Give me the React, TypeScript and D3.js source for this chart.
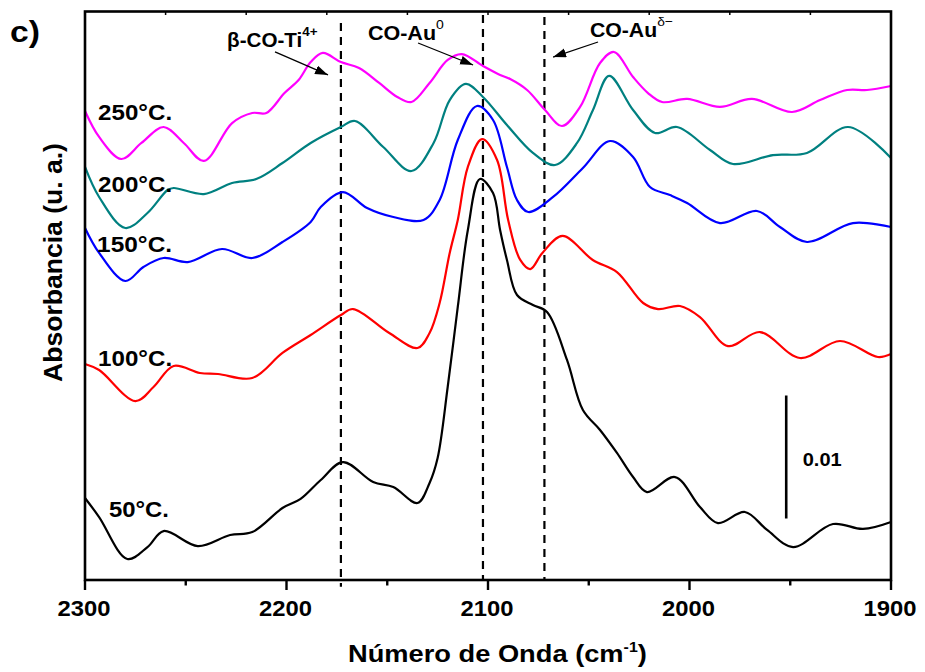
import React, { useEffect, useRef } from "react";
import * as d3 from "d3";

const W = 925;
const H = 672;

// Absorbance values in 10^-3 a.u. (curves offset as in the figure), wavenumbers in cm^-1
// 50 °C
const wn50 = [2300, 2293, 2279, 2269, 2261, 2244, 2228, 2217, 2202, 2193, 2183, 2172, 2157, 2147, 2135, 2129, 2125, 2120, 2115, 2110, 2104, 2097.5, 2094, 2090.6, 2085.6, 2077.7, 2070.7, 2060.8, 2052.9, 2044.4, 2036, 2028, 2021.1, 2007.2, 1994.8, 1985.9, 1972.5, 1961.5, 1948.6, 1928.8, 1913.9, 1900];
const abs50 = [6.67, 5.12, 1.71, 2.68, 3.98, 2.76, 3.66, 3.9, 5.85, 6.59, 8.13, 9.59, 7.97, 7.56, 6.26, 7.89, 9.92, 15.69, 22.2, 28.46, 32.6, 31.46, 28.46, 26.02, 23.17, 22.36, 21.79, 17.89, 13.82, 12.2, 10.33, 8.37, 7.15, 8.37, 5.93, 4.63, 5.53, 4.07, 2.68, 4.55, 4.15, 4.72];
// 100 °C
const wn100 = [2300, 2293, 2275, 2266, 2256, 2243, 2234, 2217, 2202, 2188, 2173, 2167, 2149, 2135, 2129, 2124, 2119, 2115, 2110, 2103, 2095.5, 2090, 2084, 2079, 2073, 2063, 2048, 2036, 2023, 2015.6, 2004.7, 1994.8, 1980.9, 1965, 1945.2, 1925.3, 1906.5, 1900];
const abs100 = [17.56, 17.07, 14.55, 15.69, 17.4, 16.83, 16.75, 16.42, 18.46, 19.92, 21.54, 22.03, 20.08, 18.86, 20.08, 22.52, 26.59, 29.27, 33.58, 35.85, 34.15, 29.27, 26.02, 25.28, 26.59, 27.97, 26.02, 25.04, 22.52, 22.03, 22.28, 21.38, 19.02, 20.16, 18.05, 19.43, 18.13, 18.37];
// 150 °C
const wn150 = [2300, 2293, 2280, 2271, 2261, 2249, 2232, 2217, 2202, 2188, 2183, 2172, 2160, 2147, 2132, 2124, 2115, 2105.5, 2097.5, 2090.6, 2085.6, 2080, 2067.7, 2052.9, 2039.5, 2028, 2019.6, 2009.7, 2001.2, 1984.9, 1966.5, 1955.1, 1941.7, 1918.9, 1900];
const abs150 = [28.62, 26.59, 24.31, 25.45, 26.18, 25.85, 26.91, 26.18, 27.48, 29.11, 30.33, 31.54, 30.24, 29.51, 29.27, 30.89, 35.77, 38.54, 37.4, 33.58, 30.89, 29.92, 31.14, 33.5, 35.69, 34.39, 31.95, 31.3, 30.65, 29.02, 30.0, 28.7, 27.48, 29.02, 28.7];
// 200 °C
const wn200 = [2300, 2293, 2280, 2269, 2259, 2256, 2241, 2227, 2215, 2202, 2188, 2173, 2166, 2152, 2138, 2127, 2119, 2111, 2102.5, 2090.6, 2077.7, 2066.7, 2055.8, 2047.9, 2039.9, 2028, 2017.1, 2006.2, 1989.8, 1978.4, 1958.6, 1941.7, 1921.3, 1900];
const abs200 = [33.58, 31.14, 28.62, 29.84, 31.71, 31.87, 31.38, 32.28, 32.6, 33.9, 35.53, 36.83, 37.32, 35.2, 33.25, 35.53, 39.02, 40.33, 39.27, 36.99, 34.72, 33.74, 35.53, 38.21, 40.98, 38.21, 36.34, 36.83, 34.96, 33.82, 34.55, 34.72, 36.83, 34.31];
// 250 °C
const wn250 = [2300, 2293, 2282, 2272, 2261, 2251, 2241, 2227, 2217, 2210, 2201, 2194, 2188, 2182, 2173, 2164, 2154, 2145, 2138, 2129, 2120, 2113, 2102.5, 2094, 2089, 2080.6, 2071.7, 2063.3, 2054.3, 2044.4, 2037.5, 2028, 2020.6, 2013.6, 2001.2, 1984.9, 1969, 1949.1, 1935.2, 1921.8, 1911.9, 1900];
const abs250 = [38.13, 36.02, 34.23, 35.53, 36.83, 35.53, 34.07, 37.15, 37.97, 37.97, 39.59, 40.65, 42.11, 42.85, 42.11, 41.63, 40.41, 39.27, 38.86, 40.41, 42.28, 42.76, 41.79, 41.06, 40.73, 39.84, 38.21, 36.91, 38.46, 42.03, 42.93, 40.89, 39.59, 38.86, 39.11, 38.46, 39.11, 38.05, 39.02, 39.84, 39.84, 40.16];

const seriesNames = ["50°C.", "100°C.", "150°C.", "200°C.", "250°C."];
const seriesColors = ["#000000", "#FF0000", "#0000FF", "#008080", "#FF00FF"];
const seriesWn = [wn50, wn100, wn150, wn200, wn250];
const seriesAbs = [abs50, abs100, abs150, abs200, abs250];
// label anchor positions (wavenumber, absorbance)
const labelWn = [2288.1, 2293.5, 2294, 2293.5, 2293.5];
const labelAbs = [5.12, 17.4, 26.67, 31.54, 37.4];
const labelWidth = [60, 74, 75, 74, 74];

const xMajorTicks = [2300, 2200, 2100, 2000, 1900];
const xMinorTicks = [2250, 2150, 2050, 1950];
const xTopTicks = d3.range(2300, 1899, -40);

// dashed reference lines
const markerWn = [2173, 2102.5, 2072];
const markerTop = [45.28, 45.93, 45.77];
const markerBottom = [-0.55, 0, 0];

// annotations: label text start, arrow start -> arrow tip
const annMain = ["β-CO-Ti", "CO-Au", "CO-Au"];
const annSup = ["4+", "0", "δ−"];
const annSupBold = [true, false, false];
const annWn = [2229.5, 2159.6, 2049.4];
const annAbs = [43.33, 43.9, 44.15];
const annWidth = [91, 76, 83];
const arrowFromWn = [2205.7, 2134.7, 2045.4];
const arrowFromAbs = [42.93, 43.66, 43.74];
const arrowToWn = [2179.4, 2107.4, 2067.7];
const arrowToAbs = [41.06, 41.87, 42.52];

// scale bar: 0.01 a.u. = 10 × 10^-3
const scaleBarWn = 1952;
const scaleBarFrom = 5.0;
const scaleBarTo = 15.0;
const scaleBarLabel = "0.01";

const FONT = "'Liberation Sans', Arial, Helvetica, sans-serif";

export default function App() {
  const ref = useRef<SVGSVGElement | null>(null);

  useEffect(() => {
    const svg = d3.select(ref.current);
    svg.selectAll("*").remove();

    const x = d3.scaleLinear().domain([2300, 1900]).range([85, 891]);
    const y = d3.scaleLinear().domain([0, 46.22]).range([580, 11.5]);

    const defs = svg.append("defs");
    defs
      .append("marker")
      .attr("id", "arrowHead")
      .attr("markerUnits", "userSpaceOnUse")
      .attr("markerWidth", 14)
      .attr("markerHeight", 10)
      .attr("refX", 13)
      .attr("refY", 4.5)
      .attr("orient", "auto")
      .append("path")
      .attr("d", "M0,0 L13,4.5 L0,9 Z")
      .attr("fill", "#000");

    const fit = (
      t: d3.Selection<SVGTextElement, unknown, null, undefined>,
      px: number,
      py: number,
      width: number,
      rotate = 0
    ) => {
      const node = t.node() as SVGTextElement;
      const w = node.getBBox().width;
      const s = w > 0 ? width / w : 1;
      t.attr(
        "transform",
        `translate(${px},${py})${rotate ? ` rotate(${rotate})` : ""} scale(${s},1)`
      );
    };

    const g = svg.append("g");

    // dashed lines
    markerWn.forEach((wv, i) => {
      g.append("line")
        .attr("x1", x(wv))
        .attr("x2", x(wv))
        .attr("y1", y(markerTop[i]))
        .attr("y2", y(markerBottom[i]))
        .attr("stroke", "#000")
        .attr("stroke-width", 2.2)
        .attr("stroke-dasharray", "8,6");
    });

    // spectra
    const line = d3
      .line<[number, number]>()
      .x((d) => x(d[0]))
      .y((d) => y(d[1]))
      .curve(d3.curveCatmullRom.alpha(0.5));

    seriesWn.forEach((wns, i) => {
      const pts: [number, number][] = wns.map((wv, j) => [wv, seriesAbs[i][j]]);
      g.append("path")
        .attr("d", line(pts) as string)
        .attr("fill", "none")
        .attr("stroke", seriesColors[i])
        .attr("stroke-width", 2.2)
        .attr("stroke-linejoin", "round");
    });

    // frame
    g.append("rect")
      .attr("x", x(2300))
      .attr("y", y.range()[1])
      .attr("width", x(1900) - x(2300))
      .attr("height", y.range()[0] - y.range()[1])
      .attr("fill", "none")
      .attr("stroke", "#000")
      .attr("stroke-width", 2.6);

    // bottom ticks
    xMajorTicks.forEach((t) => {
      g.append("line")
        .attr("x1", x(t))
        .attr("x2", x(t))
        .attr("y1", y(0))
        .attr("y2", y(0) + 10)
        .attr("stroke", "#000")
        .attr("stroke-width", 2.4);
      const tx = g
        .append("text")
        .attr("text-anchor", "middle")
        .attr("font-family", FONT)
        .attr("font-weight", "bold")
        .attr("font-size", 22)
        .text(String(t));
      fit(tx, x(t) - 1, 616, 53);
    });
    xMinorTicks.forEach((t) => {
      g.append("line")
        .attr("x1", x(t))
        .attr("x2", x(t))
        .attr("y1", y(0))
        .attr("y2", y(0) + 5.5)
        .attr("stroke", "#000")
        .attr("stroke-width", 2.4);
    });
    xTopTicks.forEach((t) => {
      g.append("line")
        .attr("x1", x(t))
        .attr("x2", x(t))
        .attr("y1", y.range()[1])
        .attr("y2", y.range()[1] + 3.5)
        .attr("stroke", "#000")
        .attr("stroke-width", 1.5);
    });

    // series labels
    seriesNames.forEach((name, i) => {
      const t = g
        .append("text")
        .attr("font-family", FONT)
        .attr("font-weight", "bold")
        .attr("font-size", 22)
        .attr("fill", "#000")
        .text(name);
      fit(t, x(labelWn[i]), y(labelAbs[i]), labelWidth[i]);
    });

    // annotations
    annMain.forEach((m, i) => {
      const t = g
        .append("text")
        .attr("font-family", FONT)
        .attr("font-weight", "bold")
        .attr("font-size", 20)
        .attr("fill", "#000");
      t.append("tspan").text(m);
      t.append("tspan")
        .attr("font-size", 13)
        .attr("font-weight", annSupBold[i] ? "bold" : "normal")
        .attr("dy", -11)
        .text(annSup[i]);
      fit(t, x(annWn[i]), y(annAbs[i]), annWidth[i]);

      g.append("line")
        .attr("x1", x(arrowFromWn[i]))
        .attr("y1", y(arrowFromAbs[i]))
        .attr("x2", x(arrowToWn[i]))
        .attr("y2", y(arrowToAbs[i]))
        .attr("stroke", "#000")
        .attr("stroke-width", 1.3)
        .attr("marker-end", "url(#arrowHead)");
    });

    // scale bar
    g.append("line")
      .attr("x1", x(scaleBarWn))
      .attr("x2", x(scaleBarWn))
      .attr("y1", y(scaleBarFrom))
      .attr("y2", y(scaleBarTo))
      .attr("stroke", "#000")
      .attr("stroke-width", 2.6);
    const sb = g
      .append("text")
      .attr("font-family", FONT)
      .attr("font-weight", "bold")
      .attr("font-size", 18)
      .text(scaleBarLabel);
    fit(sb, x(scaleBarWn) + 16.5, 466, 39);

    // panel tag
    const tag = g
      .append("text")
      .attr("font-family", FONT)
      .attr("font-weight", "bold")
      .attr("font-size", 30)
      .text("c)");
    fit(tag, 10, 42, 30);

    // x title
    const xt = g
      .append("text")
      .attr("font-family", FONT)
      .attr("font-weight", "bold")
      .attr("font-size", 24);
    xt.append("tspan").text("Número de Onda (cm");
    xt.append("tspan").attr("font-size", 14).attr("dy", -10).text("-1");
    xt.append("tspan").attr("dy", 10).text(")");
    fit(xt, 348, 662, 299);

    // y title
    const yt = g
      .append("text")
      .attr("font-family", FONT)
      .attr("font-weight", "bold")
      .attr("font-size", 26)
      .attr("text-anchor", "middle")
      .text("Absorbancia (u. a.)");
    fit(yt, 62, 262.5, 239, -90);
  }, []);

  return (
    <svg
      ref={ref}
      width={W}
      height={H}
      style={{ position: "absolute", left: 0, top: 0, background: "#fff" }}
    />
  );
}
